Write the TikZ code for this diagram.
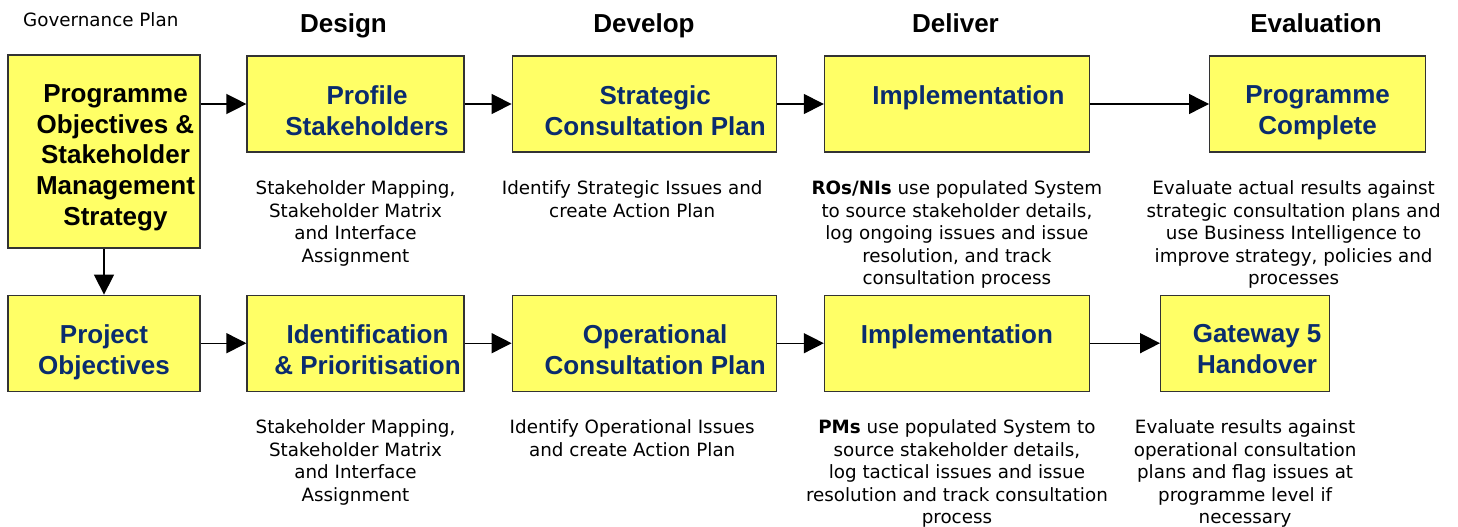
\documentclass[tikz,border=0pt]{standalone}
\usepackage{fontspec}
\usetikzlibrary{arrows.meta,positioning}
\newfontfamily\boxfam{Liberation Sans}
\newfontfamily\notefam{DejaVu Sans}
\definecolor{boxyellow}{HTML}{FFFF66}
\definecolor{boxblue}{HTML}{0A2C6E}

\begin{document}
\begin{tikzpicture}[
  x=1pt, y=-1pt,
  box/.style={draw=black!80, fill=boxyellow, line width=1.2pt, minimum height=96pt, inner sep=0pt},
  boxtext/.style={anchor=north, align=center, inner sep=0pt, text=boxblue,
    font=\boxfam\bfseries\fontsize{26}{30.7}\selectfont},
  note/.style={align=center, inner sep=0pt, font=\notefam\fontsize{18.3}{22.5}\selectfont},
  phase/.style={anchor=base, inner sep=0pt, font=\boxfam\bfseries\fontsize{26}{30}\selectfont},
  flow/.style={-{Triangle[length=20pt,width=20pt]}, line width=1.4pt},
  node distance=28pt
]
\useasboundingbox (0,0) rectangle (1458,527);

% phase headings
\node[note, anchor=base west] (gov) at (23,26.3) {Governance Plan};
\node[phase] (h1) at (343.5,33) {Design};
\node[phase] (h2) at (644,33) {Develop};
\node[phase] (h3) at (955.5,33) {Deliver};
\node[phase] (h4) at (1316,33) {Evaluation};

% programme row
\node[box, minimum width=192pt, minimum height=193pt] (s1) at (104,151.5) {};
\node[box, minimum width=217pt] (s2) at (355.5,104) {};
\node[box, minimum width=264pt, right=47pt of s2] (s3) {};
\node[box, minimum width=265pt, right=47pt of s3] (s4) {};
\node[box, minimum width=216pt, right=119pt of s4] (s5) {};

% project row
\node[box, minimum width=192pt, below=46pt of s1] (p1) {};
\node[box, minimum width=217pt, below=142pt of s2] (p2) {};
\node[box, minimum width=264pt, right=47pt of p2] (p3) {};
\node[box, minimum width=265pt, right=47pt of p3] (p4) {};
\node[box, minimum width=169pt, right=70pt of p4] (p5) {};

% box titles
\node[boxtext, text=black] (s1t) at ([xshift=11.5pt,yshift=-30pt]s1.north) {Programme\\Objectives \&\\Stakeholder\\Management\\Strategy};
\node[boxtext] (s2t) at ([xshift=11.5pt,yshift=-30pt]s2.north) {Profile\\Stakeholders};
\node[boxtext] (s3t) at ([xshift=11pt,yshift=-30pt]s3.north) {Strategic\\Consultation Plan};
\node[boxtext] (s4t) at ([xshift=11.5pt,yshift=-30pt]s4.north) {Implementation};
\node[boxtext] (s5t) at ([yshift=-30pt]s5.north) {Programme\\Complete};
\node[boxtext] (p1t) at ([yshift=-30pt]p1.north) {Project\\Objectives};
\node[boxtext] (p2t) at ([xshift=12pt,yshift=-30pt]p2.north) {Identification\\\& Prioritisation};
\node[boxtext] (p3t) at ([xshift=11pt,yshift=-30pt]p3.north) {Operational\\Consultation Plan};
\node[boxtext] (p4t) at ([yshift=-30pt]p4.north) {Implementation};
\node[boxtext] (p5t) at ([xshift=12pt,yshift=-30pt]p5.north) {Gateway 5\\Handover};

% descriptions
\node[note, below=of s2] (d2) {Stakeholder Mapping,\\Stakeholder Matrix\\and Interface\\Assignment};
\node[note, below=of s3, xshift=-12pt] (d3) {Identify Strategic Issues and\\create Action Plan};
\node[note, below=of s4] (d4) {\textbf{ROs/NIs} use populated System\\to source stakeholder details,\\log ongoing issues and issue\\resolution, and track\\consultation process};
\node[note, below=of s5, xshift=-24pt] (d5) {Evaluate actual results against\\strategic consultation plans and\\use Business Intelligence to\\improve strategy, policies and\\processes};
\node[note, below=of p2] (e2) {Stakeholder Mapping,\\Stakeholder Matrix\\and Interface\\Assignment};
\node[note, below=of p3, xshift=-12pt] (e3) {Identify Operational Issues\\and create Action Plan};
\node[note, below=of p4] (e4) {\textbf{PMs} use populated System to\\source stakeholder details,\\log tactical issues and issue\\resolution and track consultation\\process};
\node[note, below=of p5] (e5) {Evaluate results against\\operational consultation\\plans and flag issues at\\programme level if\\necessary};

% connectors
\foreach \a/\b in {s1/s2,s2/s3,s3/s4,s4/s5,p1/p2,p2/p3,p3/p4,p4/p5}
  \draw[flow] (\a.east |- \b.west) -- (\b.west);
\draw[flow] (s1.south) -- (p1.north);

\end{tikzpicture}
\end{document}
